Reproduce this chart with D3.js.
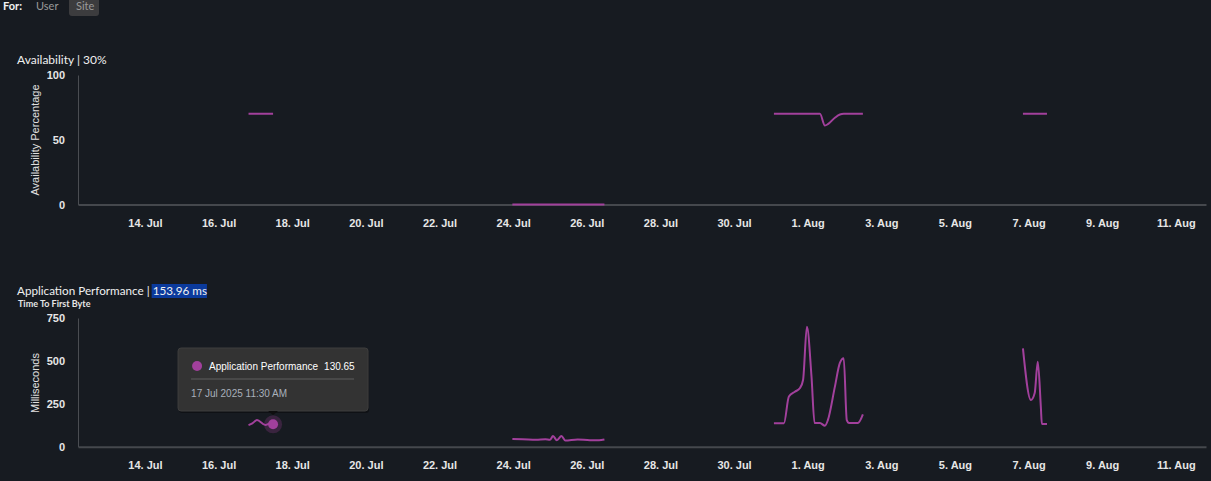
<!DOCTYPE html>
<html>
<head>
<meta charset="utf-8">
<script src="https://cdn.jsdelivr.net/npm/d3@7"></script>
<style>
  html, body { margin: 0; padding: 0; background: #171b21; overflow: hidden; }
  svg { display: block; }
  .tick text { font-family: "Liberation Sans", Arial, sans-serif; font-size: 11px; font-weight: bold; fill: #e6e6e6; }
  .axis-title { font-family: "Liberation Sans", Arial, sans-serif; font-size: 11px; fill: #e0e0e0; }
  .title { font-family: Lato, "Open Sans", sans-serif; font-size: 12px; fill: #f0f0f0; }
</style>
</head>
<body>
<div id="display-chart"></div>
<script>
var parseTime = d3.timeParse("%Y-%m-%dT%H:%M");
var parseDay = d3.timeParse("%Y-%m-%d");

// sample times (null values break the line)
var times = [
  "2025-07-16T19:30", "2025-07-16T22:00", "2025-07-17T01:00", "2025-07-17T06:30", "2025-07-17T09:00", "2025-07-17T11:30",
  "2025-07-20T00:00",
  "2025-07-23T23:30", "2025-07-24T06:00", "2025-07-24T15:00", "2025-07-24T21:00", "2025-07-25T00:00", "2025-07-25T02:00",
  "2025-07-25T04:30", "2025-07-25T07:30", "2025-07-25T10:00", "2025-07-25T18:00", "2025-07-26T02:00", "2025-07-26T08:00",
  "2025-07-26T11:30",
  "2025-07-29T00:00",
  "2025-07-31T02:00", "2025-07-31T08:30", "2025-07-31T11:45", "2025-07-31T15:40", "2025-07-31T19:00", "2025-07-31T21:00",
  "2025-07-31T23:30", "2025-08-01T02:30", "2025-08-01T04:30", "2025-08-01T08:00", "2025-08-01T11:15", "2025-08-01T13:10",
  "2025-08-01T17:45", "2025-08-01T21:00", "2025-08-01T23:30", "2025-08-02T01:30", "2025-08-02T03:00", "2025-08-02T08:40",
  "2025-08-02T12:00",
  "2025-08-04T12:00",
  "2025-08-06T20:20", "2025-08-07T01:30", "2025-08-07T04:00", "2025-08-07T06:00", "2025-08-07T08:00", "2025-08-07T08:40",
  "2025-08-07T12:00"
];

var availability = [
  70, 70, 70, 70, 70, 70,
  null,
  0, 0, 0, 0, 0, 0, 0, 0, 0, 0, 0, 0, 0,
  null,
  70, 70, 70, 70, 70, 70, 70, 70, 70, 70, 61, 62, 67, 69.5, 70, 70, 70, 70, 70,
  null,
  70, 70, 70, 70, 70, 70, 70
];

var performance = [
  126, 136, 155, 126, 134, 130.65,
  null,
  45, 44, 40, 44, 40, 62, 38, 62, 36, 42, 38, 38, 42,
  null,
  136, 136, 292, 320, 342, 389, 699, 408, 138, 138, 122, 155, 350, 488, 515, 155, 138, 138, 189,
  null,
  573, 272, 313, 495, 233, 132, 132
];

var tickDays = [
  "2025-07-14", "2025-07-16", "2025-07-18", "2025-07-20", "2025-07-22", "2025-07-24", "2025-07-26", "2025-07-28",
  "2025-07-30", "2025-08-01", "2025-08-03", "2025-08-05", "2025-08-07", "2025-08-09", "2025-08-11"
];
var availTicks = [0, 50, 100];
var perfTicks = [0, 250, 500, 750];

var hoverIndex = 5;
var lineColor = "#a2409c";

var datum = times.map(function(t, i) {
  return { time: parseTime(t), avail: availability[i], perf: performance[i] };
});

var svg = d3.select("#display-chart")
  .append("svg")
  .attr("width", 1211)
  .attr("height", 481);

var xScale = d3.scaleTime()
  .domain([new Date(2025, 6, 12, 4, 20), new Date(2025, 7, 11, 19, 40)])
  .range([78, 1206]);

var xAxis = d3.axisBottom(xScale)
  .tickValues(tickDays.map(parseDay))
  .tickFormat(d3.timeFormat("%-d. %b"))
  .tickSize(0)
  .tickPadding(15);

/* header */
svg.append("rect")
  .attr("x", 69).attr("y", -4).attr("width", 30).attr("height", 20).attr("rx", 3)
  .attr("fill", "#3c3c3e");
svg.append("text").text("For:")
  .attr("x", 3).attr("y", 10)
  .style("font-family", "Lato, sans-serif").style("font-size", "11px").style("font-weight", "bold").style("fill", "#f2f2f2");
svg.append("text").text("User")
  .attr("x", 36).attr("y", 10)
  .style("font-family", "Lato, sans-serif").style("font-size", "11px").style("fill", "#9a9a9a");
svg.append("text").text("Site")
  .attr("x", 76).attr("y", 10)
  .style("font-family", "Lato, sans-serif").style("font-size", "11px").style("fill", "#9a9a9a");

function drawPanel(opts) {
  var yScale = d3.scaleLinear()
    .domain([0, opts.ticks[opts.ticks.length - 1]])
    .range([opts.yBottom, opts.yTop]);

  var yAxis = d3.axisLeft(yScale)
    .tickValues(opts.ticks)
    .tickSize(0)
    .tickPadding(13);

  var g = svg.append("g");

  g.append("g")
    .attr("class", "y-axis")
    .attr("transform", "translate(78,0)")
    .call(yAxis)
    .call(function(s) { s.select(".domain").attr("stroke", "#4a4d52").attr("stroke-width", 1); });

  g.append("g")
    .attr("class", "x-axis")
    .attr("transform", "translate(0," + opts.yBottom + ")")
    .call(xAxis)
    .call(function(s) { s.select(".domain").attr("stroke", "#45484d").attr("stroke-width", 2); });

  g.append("text")
    .attr("class", "axis-title")
    .attr("text-anchor", "middle")
    .attr("transform", "translate(39," + opts.titleY + ") rotate(-90)")
    .text(opts.yTitle);

  var line = d3.line()
    .defined(function(d) { return d[opts.key] !== null; })
    .x(function(d) { return xScale(d.time); })
    .y(function(d) { return yScale(d[opts.key]); })
    .curve(d3.curveMonotoneX);

  g.append("path")
    .datum(datum)
    .attr("fill", "none")
    .attr("stroke", lineColor)
    .attr("stroke-width", 2)
    .attr("stroke-linejoin", "round")
    .attr("d", line);

  return yScale;
}

/* Availability */
svg.append("text").attr("class", "title").attr("x", 17).attr("y", 64).text("Availability | 30%");
drawPanel({ key: "avail", ticks: availTicks, yTop: 75, yBottom: 204.5, yTitle: "Availability Percentage", titleY: 140 });

/* Application Performance */
var hlRect = svg.append("rect").attr("y", 284).attr("height", 14).attr("fill", "#0b3a9c");
var perfTitle = svg.append("text").attr("class", "title").attr("x", 17).attr("y", 295).style("font-size", "11.7px");
perfTitle.append("tspan").text("Application Performance | ");
var hl = perfTitle.append("tspan").text("153.96 ms");
var tb = hl.node().getBBox();
hlRect.attr("x", tb.x - 1).attr("width", tb.width + 1);
svg.append("text").text("Time To First Byte")
  .attr("x", 18).attr("y", 307)
  .style("font-family", "Lato, sans-serif").style("font-size", "9px").style("font-weight", "bold").style("fill", "#e6e6e6");

var perfY = drawPanel({ key: "perf", ticks: perfTicks, yTop: 318, yBottom: 446.7, yTitle: "Milliseconds", titleY: 383 });

/* hover marker + tooltip */
var hp = datum[hoverIndex];
var hx = xScale(hp.time), hy = perfY(hp.perf);
svg.append("circle").attr("cx", hx).attr("cy", hy).attr("r", 9).attr("fill", lineColor).attr("opacity", 0.25);
svg.append("circle").attr("cx", hx).attr("cy", hy).attr("r", 5).attr("fill", lineColor);

var tip = svg.append("g").attr("transform", "translate(" + (hx - 95) + ",348)");
tip.append("rect")
  .attr("x", 1).attr("y", 2).attr("width", 190).attr("height", 63).attr("rx", 3)
  .attr("fill", "#000").attr("opacity", 0.35);
tip.append("rect")
  .attr("width", 190).attr("height", 63).attr("rx", 3)
  .attr("fill", "#333333").attr("stroke", "#3e3e3e");
tip.append("path").attr("d", "M90,63 L95,67 L100,63 Z").attr("fill", "#0e0e0e");
tip.append("circle").attr("cx", 19).attr("cy", 18).attr("r", 5).attr("fill", lineColor);
tip.append("text").attr("x", 31).attr("y", 22)
  .style("font-family", "Liberation Sans, Arial, sans-serif").style("font-size", "10px").style("fill", "#ffffff")
  .text("Application Performance");
tip.append("text").attr("x", 146).attr("y", 22)
  .style("font-family", "Liberation Sans, Arial, sans-serif").style("font-size", "10px").style("fill", "#ffffff")
  .text(d3.format(".2f")(hp.perf));
tip.append("line").attr("x1", 13).attr("x2", 176).attr("y1", 31).attr("y2", 31).attr("stroke", "#5e5e5e");
tip.append("text").attr("x", 13).attr("y", 49)
  .style("font-family", "Liberation Sans, Arial, sans-serif").style("font-size", "10px").style("fill", "#a8b0bb")
  .text(d3.timeFormat("%-d %b %Y %-I:%M %p")(hp.time));
</script>
</body>
</html>
